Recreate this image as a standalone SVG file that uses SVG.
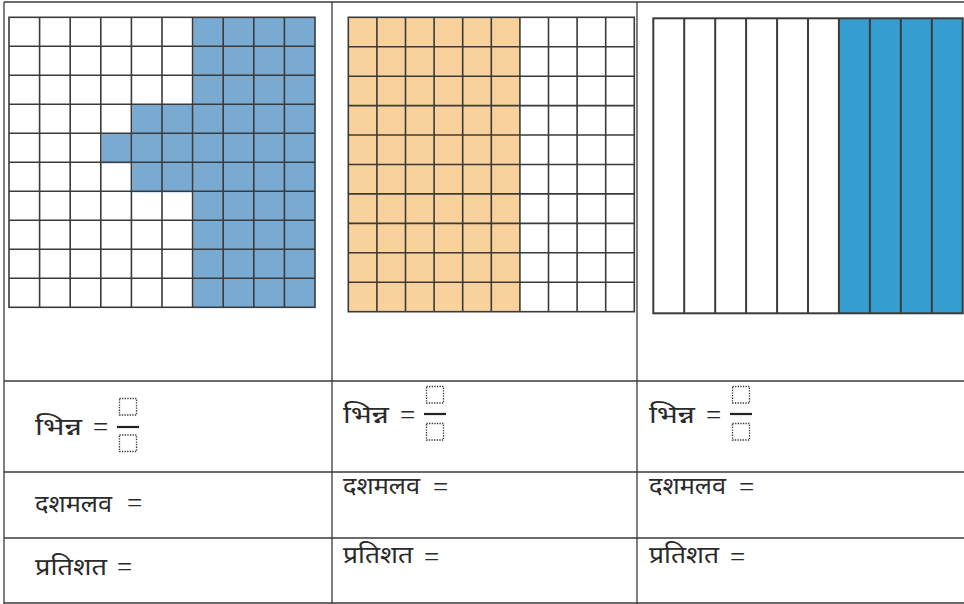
<svg xmlns="http://www.w3.org/2000/svg" width="964" height="604" viewBox="0 0 964 604">
<style>
.tbl{stroke:#3a3a3a;stroke-width:1.3;fill:none}
.g{stroke:#3b3b3b;stroke-width:1.6;fill:none}
.t{font-family:"Noto Sans","Liberation Serif",serif;font-size:24px;fill:#2a2a2a}
.eq{font-family:"Liberation Serif",serif;font-size:27px;fill:#2a2a2a}
.box{fill:none;stroke:#333;stroke-width:1.3;stroke-dasharray:1.3 1.3}
.bar{stroke:#222;stroke-width:2.2}
</style>
<rect width="964" height="604" fill="#fff"/>
<g id="table">
<line class="tbl" x1="4" y1="2" x2="964" y2="2"/>
<line class="tbl" x1="4" y1="381" x2="964" y2="381"/>
<line class="tbl" x1="4" y1="472" x2="964" y2="472"/>
<line class="tbl" x1="4" y1="538" x2="964" y2="538"/>
<line class="tbl" x1="4" y1="603" x2="964" y2="603"/>
<line class="tbl" x1="4" y1="2" x2="4" y2="604"/>
<line class="tbl" x1="332" y1="2" x2="332" y2="604"/>
<line class="tbl" x1="637" y1="2" x2="637" y2="604"/>
</g>
<g id="grid1">
<g fill="#79aad1">
<rect x="193.3" y="17.3" width="121.7" height="290"/>
<rect x="132.3" y="105" width="61" height="87.3"/>
<rect x="101.7" y="134" width="30.6" height="29.3"/>
</g>
<g class="g">
<rect x="9" y="17.3" width="306" height="290"/>
<path d="M39.6 17.3V307.3M70.2 17.3V307.3M100.8 17.3V307.3M131.4 17.3V307.3M162 17.3V307.3M192.6 17.3V307.3M223.2 17.3V307.3M253.8 17.3V307.3M284.4 17.3V307.3"/>
<path d="M9 46.3H315M9 75.3H315M9 104.3H315M9 133.3H315M9 162.3H315M9 191.3H315M9 220.3H315M9 249.3H315M9 278.3H315"/>
</g>
</g>
<g id="grid2">
<rect x="348.3" y="17.3" width="171.6" height="294.4" fill="#f8d19c"/>
<g class="g">
<rect x="348.3" y="17.3" width="286" height="294.4"/>
<path d="M376.9 17.3V311.7M405.5 17.3V311.7M434.1 17.3V311.7M462.7 17.3V311.7M491.3 17.3V311.7M519.9 17.3V311.7M548.5 17.3V311.7M577.1 17.3V311.7M605.7 17.3V311.7"/>
<path d="M348.3 46.7H634.3M348.3 76.2H634.3M348.3 105.6H634.3M348.3 135H634.3M348.3 164.5H634.3M348.3 193.9H634.3M348.3 223.4H634.3M348.3 252.8H634.3M348.3 282.3H634.3"/>
</g>
</g>
<g id="grid3">
<rect x="838.9" y="18.3" width="123.8" height="295" fill="#359dcf"/>
<g class="g" style="stroke-width:2">
<rect x="653.3" y="18.3" width="309.4" height="295"/>
<path d="M684.2 18.3V313.3M715.2 18.3V313.3M746.1 18.3V313.3M777.1 18.3V313.3M808 18.3V313.3M838.9 18.3V313.3M869.9 18.3V313.3M900.8 18.3V313.3M931.8 18.3V313.3"/>
</g>
</g>
<g id="col1-text">
<text class="t" x="35" y="435" textLength="47" lengthAdjust="spacingAndGlyphs">भिन्न</text>
<text class="eq" x="93" y="436">=</text>
<rect class="box" x="119.5" y="398.5" width="17" height="16.5"/>
<line class="bar" x1="117" y1="427" x2="139" y2="427"/>
<rect class="box" x="119.5" y="435" width="17" height="16.5"/>
<text class="t" x="35" y="512" textLength="77" lengthAdjust="spacingAndGlyphs">दशमलव</text>
<text class="eq" x="127" y="512">=</text>
<text class="t" x="35" y="575" textLength="72" lengthAdjust="spacingAndGlyphs">प्रतिशत</text>
<text class="eq" x="117" y="576">=</text>
</g>
<g id="col2-text">
<text class="t" x="343" y="423" textLength="46" lengthAdjust="spacingAndGlyphs">भिन्न</text>
<text class="eq" x="400" y="424">=</text>
<rect class="box" x="426.5" y="386.5" width="17" height="16.5"/>
<line class="bar" x1="424" y1="414" x2="446" y2="414"/>
<rect class="box" x="426.5" y="423.5" width="17" height="16.5"/>
<text class="t" x="343" y="494" textLength="77" lengthAdjust="spacingAndGlyphs">दशमलव</text>
<text class="eq" x="433" y="496">=</text>
<text class="t" x="343" y="563" textLength="70" lengthAdjust="spacingAndGlyphs">प्रतिशत</text>
<text class="eq" x="424" y="566">=</text>
</g>
<g id="col3-text">
<text class="t" x="649" y="423" textLength="46" lengthAdjust="spacingAndGlyphs">भिन्न</text>
<text class="eq" x="706" y="424">=</text>
<rect class="box" x="732.5" y="386.5" width="17" height="16.5"/>
<line class="bar" x1="730" y1="414" x2="752" y2="414"/>
<rect class="box" x="732.5" y="423.5" width="17" height="16.5"/>
<text class="t" x="649" y="494" textLength="77" lengthAdjust="spacingAndGlyphs">दशमलव</text>
<text class="eq" x="739" y="496">=</text>
<text class="t" x="649" y="563" textLength="70" lengthAdjust="spacingAndGlyphs">प्रतिशत</text>
<text class="eq" x="730" y="566">=</text>
</g>
</svg>
